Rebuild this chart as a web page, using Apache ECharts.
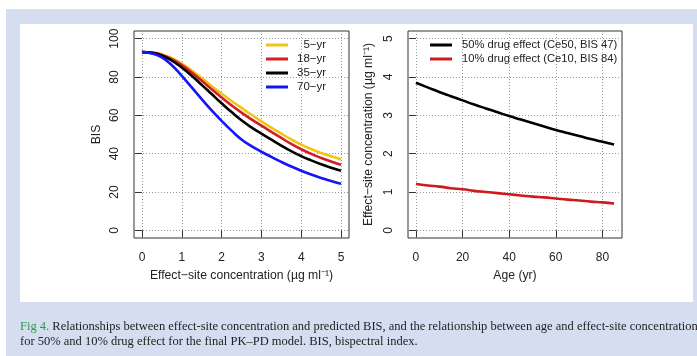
<!DOCTYPE html>
<html>
<head>
<meta charset="utf-8">
<script src="https://cdn.jsdelivr.net/npm/echarts@6/dist/echarts.min.js"></script>
<style>
    html, body { margin: 0; padding: 0; background: #fff; }
    #frame { position: absolute; left: 6px; top: 9px; width: 691px; height: 347px; background: #d5def1; }
    #panel { position: absolute; left: 20px; top: 24px; width: 673px; height: 278px; background: #fff; }
    #chart { position: absolute; left: 0; top: 0; width: 697px; height: 356px; }
    #caption {
        position: absolute; left: 20px; top: 319px; width: 677px; overflow: hidden;
        font-family: "Liberation Serif", serif; font-size: 12.5px; line-height: 15px;
        color: #222; white-space: nowrap;
    }
    #caption .fig { color: #2f9a45; }
</style>
</head>
<body>
<div id="frame"></div>
<div id="panel"></div>
<div id="chart"></div>
<div id="caption"><span class="fig">Fig 4.</span> Relationships between effect-site concentration and predicted BIS, and the relationship between age and effect-site concentration<br>for 50% and 10% drug effect for the final PK–PD model. BIS, bispectral index.</div>
<script>
// left panel: BIS against effect-site concentration, one curve per age
const ceValues = [0, 0.25, 0.5, 0.75, 1, 1.25, 1.5, 1.75, 2, 2.25, 2.5, 2.75, 3, 3.25, 3.5, 3.75, 4, 4.25, 4.5, 4.75, 5];
const bis5  = [93, 92.8, 91.8, 89.8, 87.0, 83.4, 79.4, 75.3, 71.3, 67.5, 63.9, 60.3, 56.9, 53.6, 50.4, 47.4, 44.7, 42.4, 40.4, 38.6, 37.0];
const bis18 = [93, 92.7, 91.5, 89.3, 86.2, 82.3, 78.0, 73.6, 69.3, 65.2, 61.4, 57.9, 54.6, 51.4, 48.2, 45.1, 42.3, 39.9, 37.8, 35.9, 34.2];
const bis35 = [93, 92.6, 91.2, 88.6, 85.0, 80.6, 75.9, 71.1, 66.3, 61.7, 57.4, 53.7, 50.5, 47.3, 44.2, 41.3, 38.7, 36.5, 34.5, 32.7, 31.1];
const bis70 = [93, 92.3, 90.2, 86.1, 80.6, 74.6, 68.5, 62.6, 57.1, 52.0, 47.4, 43.9, 41.0, 38.3, 35.7, 33.3, 31.1, 29.1, 27.3, 25.7, 24.3];
const ageNames = ['  5−yr', '18−yr', '35−yr', '70−yr'];
const ageColors = ['#f0c514', '#d21e24', '#000000', '#1515f5'];

// right panel: effect-site concentration against age
const ages = [0, 5, 10, 15, 20, 25, 30, 35, 40, 45, 50, 55, 60, 65, 70, 75, 80, 85];
const ce50 = [3.85, 3.73, 3.61, 3.50, 3.39, 3.28, 3.18, 3.08, 2.98, 2.89, 2.80, 2.71, 2.62, 2.54, 2.46, 2.38, 2.31, 2.24];
const ce10 = [1.21, 1.17, 1.14, 1.10, 1.07, 1.03, 1.00, 0.97, 0.94, 0.91, 0.88, 0.86, 0.83, 0.80, 0.78, 0.75, 0.73, 0.70];
const effectNames = ['50% drug effect (Ce50, BIS 47)', '10% drug effect (Ce10, BIS 84)'];

const ceTicks = [0, 1, 2, 3, 4, 5];
const bisTicks = [0, 20, 40, 60, 80, 100];
const ageTicks = [0, 20, 40, 60, 80];

const txt = '#222';
const font = 'Liberation Sans';
const concName = 'Effect−site concentration (µg ml⁻¹)';

const pair = (xs, ys) => xs.map((x, i) => [x, ys[i]]);

const xAxisBase = (ticks) => ({
    type: 'value',
    axisLine: { show: false },
    axisTick: { show: true, length: 7, customValues: ticks, lineStyle: { color: '#333' } },
    axisLabel: { customValues: ticks, margin: 14, color: txt, fontSize: 12, fontFamily: font },
    splitLine: { show: true, lineStyle: { color: '#9a9a9a', type: [1, 2], width: 1 } },
    nameLocation: 'middle',
    nameGap: 32,
    nameTextStyle: { color: txt, fontSize: 12.2, fontFamily: font }
});

const yAxisBase = (ticks) => ({
    type: 'value',
    axisLine: { show: false },
    axisTick: { show: true, length: 7, customValues: ticks, lineStyle: { color: '#333' } },
    axisLabel: { customValues: ticks, rotate: 90, margin: 13, color: txt, fontSize: 12, fontFamily: font },
    splitLine: { show: true, lineStyle: { color: '#9a9a9a', type: [1, 2], width: 1 } },
    nameLocation: 'middle',
    nameRotate: 90,
    nameTextStyle: { color: txt, fontSize: 12.2, fontFamily: font }
});

const lineSeries = (name, data, color, idx) => ({
    name: name,
    type: 'line',
    xAxisIndex: idx,
    yAxisIndex: idx,
    data: data,
    smooth: 0.5,
    symbol: 'none',
    lineStyle: { color: color, width: 2.6 },
    itemStyle: { color: color },
    animation: false
});

const chart = echarts.init(document.getElementById('chart'), null, { renderer: 'canvas' });

const bisSets = [bis5, bis18, bis35, bis70];

const option = {
    animation: false,
    grid: [
        { left: 134, top: 31, width: 215, height: 207, show: true, borderColor: '#333', borderWidth: 1, backgroundColor: 'transparent' },
        { left: 408, top: 31, width: 214, height: 207, show: true, borderColor: '#333', borderWidth: 1, backgroundColor: 'transparent' }
    ],
    xAxis: [
        Object.assign(xAxisBase(ceTicks), { gridIndex: 0, min: -0.2, max: 5.2, name: concName }),
        Object.assign(xAxisBase(ageTicks), { gridIndex: 1, min: -3.4, max: 88.4, name: 'Age (yr)' })
    ],
    yAxis: [
        Object.assign(yAxisBase(bisTicks), { gridIndex: 0, min: -4, max: 104, name: 'BIS', nameGap: 31 }),
        Object.assign(yAxisBase(ceTicks), { gridIndex: 1, min: -0.2, max: 5.2, name: concName, nameGap: 33 })
    ],
    legend: [
        {
            left: 266, top: 38, orient: 'vertical', padding: 0,
            itemWidth: 22, itemHeight: 3, itemGap: 0, icon: 'rect',
            data: ageNames,
            textStyle: { color: txt, fontSize: 11.5, fontFamily: font, lineHeight: 14, padding: [0, 0, 0, 4] }
        },
        {
            left: 430, top: 38, orient: 'vertical', padding: 0,
            itemWidth: 22, itemHeight: 3, itemGap: 0, icon: 'rect',
            data: effectNames,
            textStyle: { color: txt, fontSize: 11.2, fontFamily: font, lineHeight: 14, padding: [0, 0, 0, 5] }
        }
    ],
    series: [
        ...bisSets.map((set, i) => lineSeries(ageNames[i], pair(ceValues, set), ageColors[i], 0)),
        lineSeries(effectNames[0], pair(ages, ce50), '#000000', 1),
        lineSeries(effectNames[1], pair(ages, ce10), '#cd1a1f', 1)
    ]
};

chart.setOption(option);
</script>
</body>
</html>
